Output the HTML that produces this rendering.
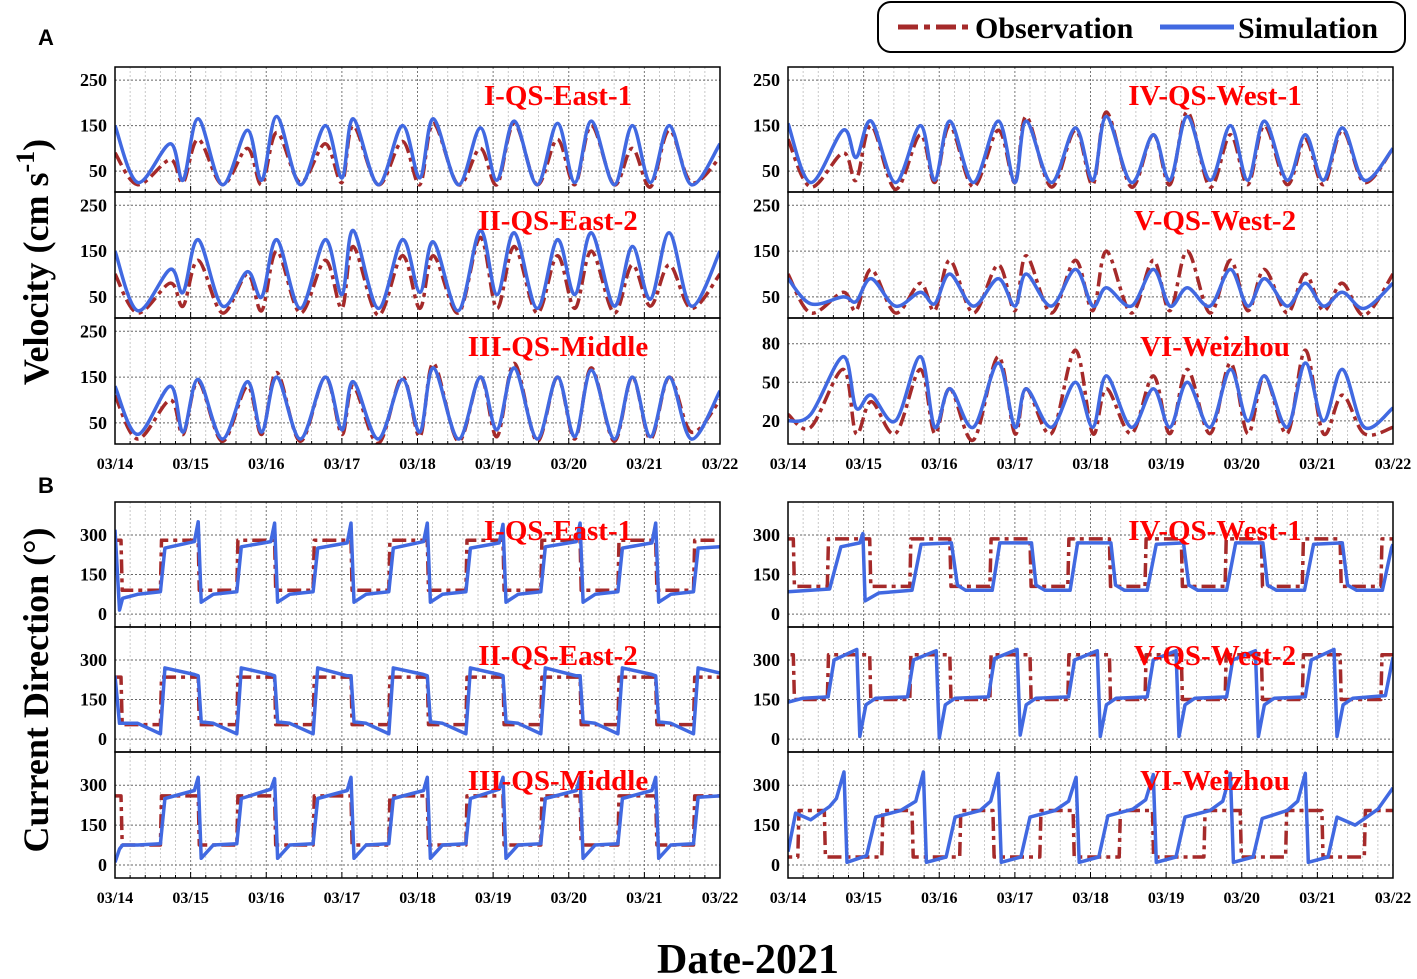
<!DOCTYPE html>
<html><head><meta charset="utf-8"><style>
html,body{margin:0;padding:0;background:#fff;}
svg{display:block;font-family:"Liberation Serif",serif;font-weight:bold;}
</style></head><body>
<svg id="chart" width="1417" height="979" viewBox="0 0 1417 979">
<text x="38" y="45" font-size="22" font-family="Liberation Sans">A</text>
<text x="38" y="493" font-size="22" font-family="Liberation Sans">B</text>
<text transform="translate(48,262) rotate(-90)" font-size="36" text-anchor="middle">Velocity (cm s<tspan dy="-14" font-size="26">-1</tspan><tspan dy="14">)</tspan></text>
<text transform="translate(48,690) rotate(-90)" font-size="36" text-anchor="middle">Current Direction (°)</text>
<text x="748" y="973" font-size="42" text-anchor="middle">Date-2021</text>
<g>
<rect x="878" y="2" width="527" height="50" rx="13" fill="#fff" stroke="#000" stroke-width="2"/>
<line x1="898" y1="27" x2="970" y2="27" stroke="#A52A2A" stroke-width="5" stroke-dasharray="20 6 6 6"/>
<text x="975" y="38" font-size="30">Observation</text>
<line x1="1160" y1="27" x2="1234" y2="27" stroke="#4169E1" stroke-width="5"/>
<text x="1238" y="38" font-size="30">Simulation</text>
</g>
</svg>
<script>
const dateLabels=["03/14","03/15","03/16","03/17","03/18","03/19","03/20","03/21","03/22"];
const velTicks=[50,150,250];
const velTicksVI=[20,50,80];
const dirTicks=[0,150,300];
const velT=[0,0.30,0.73,0.90,1.10,1.42,1.75,1.94,2.14,2.45,2.78,3.0,3.15,3.48,3.80,4.03,4.21,4.54,4.83,5.05,5.28,5.58,5.85,6.08,6.3,6.6,6.84,7.08,7.33,7.62,8.0];
const v1Sim=[150,25,110,30,165,20,140,30,170,20,150,35,165,20,150,35,165,20,145,30,160,20,155,25,160,20,150,25,150,20,110];
const v1Obs=[90,20,75,25,120,20,100,20,135,25,110,25,150,20,115,20,155,20,100,20,155,20,120,20,150,20,100,15,140,25,80];
const v2Sim=[150,20,110,60,175,30,105,50,175,25,175,55,195,25,175,60,170,20,195,55,190,25,175,55,190,30,160,45,190,30,150];
const v2Obs=[100,15,80,30,130,15,100,20,150,15,130,25,160,10,140,25,140,15,180,25,160,15,140,25,150,15,120,30,120,25,100];
const v3Sim=[130,25,130,30,145,15,140,30,150,15,150,35,140,15,145,30,170,15,150,35,170,15,150,20,165,15,150,20,150,15,120];
const v3Obs=[110,15,100,25,140,10,130,25,160,10,150,25,130,5,150,20,180,10,150,20,180,10,150,15,170,10,150,15,150,30,100];
const v4Sim=[155,25,140,80,160,25,150,30,160,25,160,25,160,25,145,30,170,25,130,30,170,30,150,30,160,30,130,30,145,30,100];
const v4Obs=[120,15,90,30,150,10,130,25,150,15,140,25,170,15,140,20,180,15,130,20,180,15,130,20,150,20,120,20,140,25,100];
const v5Sim=[90,35,50,40,90,30,60,35,100,30,90,30,100,30,110,30,70,30,110,30,70,30,110,30,90,30,80,30,60,25,80];
const v5Obs=[100,15,60,20,110,15,80,20,130,15,120,20,140,15,130,20,150,15,130,20,150,15,130,20,110,15,100,20,80,10,100];
const v6Sim=[20,25,70,30,40,20,70,15,45,15,65,15,45,15,50,15,55,15,45,15,50,15,60,20,55,15,65,20,60,15,30];
const v6Obs=[25,15,60,10,35,10,60,10,45,5,70,10,45,10,75,10,45,10,55,10,60,10,65,10,55,10,75,10,40,10,15];

const dirTL=[0,0.06,0.1,0.3,0.6,0.66,1.05,1.1,1.14,1.3,1.61,1.67,2.06,2.11,2.15,2.31,2.62,2.68,3.07,3.12,3.16,3.32,3.62,3.68,4.08,4.13,4.17,4.33,4.64,4.70,5.08,5.13,5.17,5.33,5.63,5.69,6.10,6.15,6.19,6.35,6.65,6.71,7.10,7.15,7.19,7.35,7.65,7.71,8.0];
const d1Sim=[320,15,60,75,85,250,275,350,45,75,85,255,275,345,45,75,85,250,270,345,45,75,85,250,275,345,45,75,85,250,270,340,45,75,85,255,275,345,45,75,85,250,270,345,45,75,85,250,255];
const d2Sim=[240,60,60,60,20,270,245,240,65,60,20,270,245,240,65,60,20,270,240,240,65,60,20,270,245,240,65,60,20,270,245,240,65,60,20,270,240,240,65,60,20,270,245,240,65,60,20,270,250];
const d3Sim=[10,60,75,75,80,250,280,330,25,75,80,250,285,325,25,75,80,250,280,330,25,75,80,250,280,330,25,75,80,250,285,330,25,75,80,250,280,330,25,75,80,250,280,330,25,75,80,255,260];
const obsUpL=[-0.5,0.6,1.61,2.62,3.62,4.64,5.63,6.65,7.65];
const obsDownL=[0.08,1.1,2.11,3.12,4.13,5.13,6.15,7.15,8.2];
const d1Obs=[280,90];
const d2Obs=[235,55];
const d3Obs=[260,75];

const d4T=[0,0.3,0.55,0.7,0.95,0.99,1.02,1.2,1.64,1.76,2.16,2.24,2.35,2.70,2.80,3.22,3.28,3.4,3.73,3.83,4.27,4.33,4.45,4.75,4.87,5.23,5.3,5.42,5.8,5.92,6.28,6.34,6.46,6.83,6.95,7.33,7.4,7.52,7.86,7.98,8.0];
const d4Sim=[85,90,95,255,270,305,50,80,90,265,270,110,90,90,270,270,110,90,90,270,270,110,90,90,265,270,110,90,90,270,270,110,90,90,265,270,110,90,90,250,265];
const d5T=[0,0.2,0.53,0.61,0.91,0.95,1.03,1.16,1.58,1.66,1.96,2.0,2.08,2.21,2.65,2.73,3.03,3.07,3.15,3.28,3.71,3.79,4.09,4.13,4.21,4.34,4.75,4.83,5.13,5.17,5.25,5.38,5.8,5.88,6.18,6.22,6.3,6.43,6.84,6.92,7.22,7.26,7.34,7.47,7.9,8.0];
const d5Sim=[140,155,160,300,340,10,130,155,160,300,335,5,130,155,160,305,340,15,130,155,160,300,335,10,130,155,160,300,335,10,130,155,160,300,335,10,130,155,160,300,340,10,130,155,165,310];
const d6T=[0,0.1,0.3,0.55,0.64,0.74,0.78,1.04,1.16,1.49,1.69,1.79,1.83,2.09,2.21,2.54,2.68,2.78,2.82,3.08,3.2,3.53,3.71,3.81,3.85,4.11,4.23,4.56,4.73,4.83,4.87,5.13,5.25,5.58,5.75,5.85,5.89,6.15,6.27,6.6,6.74,6.84,6.88,7.14,7.26,7.5,7.6,7.8,8.0];
const d6Sim=[50,195,170,220,250,350,10,35,180,205,240,350,10,30,180,205,240,345,10,30,180,205,240,330,10,30,185,210,245,340,10,30,180,205,240,345,10,30,175,205,240,345,10,30,180,150,170,210,290];
const obsUpR=[-0.5,0.52,1.61,2.67,3.7,4.72,5.78,6.8,7.84];
const obsDownR=[0.07,1.08,2.14,3.2,4.25,5.2,6.26,7.3,8.2];
const obsUpVI=[0.13,1.24,2.27,3.33,4.38,5.5,6.58,7.62];
const obsDownVI=[0.48,1.64,2.71,3.77,4.82,5.98,7.06,8.2];
const d4Obs=[285,105];
const d5Obs=[320,150];
const d6Obs=[205,30];

const NS="http://www.w3.org/2000/svg";
const svg=document.getElementById('chart');
function mk(tag,attrs,parent){const e=document.createElementNS(NS,tag);for(const k in attrs)e.setAttribute(k,attrs[k]);(parent||svg).appendChild(e);return e;}
const COLS=[[115,720],[788,1393]];
const ROWS=[[67,192],[192,318],[318,444],[502,627],[627,752],[752,878]];
let clipId=0;
function smoothPath(pts){
  let d="M"+pts[0][0].toFixed(1)+","+pts[0][1].toFixed(1);
  for(let i=0;i<pts.length-1;i++){
    const p0=pts[Math.max(0,i-1)],p1=pts[i],p2=pts[i+1],p3=pts[Math.min(pts.length-1,i+2)];
    const c1=[p1[0]+(p2[0]-p0[0])/6,p1[1]+(p2[1]-p0[1])/6];
    const c2=[p2[0]-(p3[0]-p1[0])/6,p2[1]-(p3[1]-p1[1])/6];
    d+=" C"+c1[0].toFixed(1)+","+c1[1].toFixed(1)+" "+c2[0].toFixed(1)+","+c2[1].toFixed(1)+" "+p2[0].toFixed(1)+","+p2[1].toFixed(1);
  }
  return d;
}
function linePath(pts){return pts.map((p,i)=>(i?"L":"M")+p[0].toFixed(1)+","+p[1].toFixed(1)).join(" ");}

function panel(opt){
  const [x0,x1]=COLS[opt.col],[y0,y1]=ROWS[opt.row];
  const [dmin,dmax]=opt.domain;
  const X=t=>x0+(x1-x0)*t/8;
  const Y=v=>y1-(y1-y0)*(v-dmin)/(dmax-dmin);
  const g=mk('g',{});
  
  
  clipId++;
  const cp=mk('clipPath',{id:'c'+clipId},g);
  mk('rect',{x:x0,y:y0,width:x1-x0,height:y1-y0},cp);
  for(let k=0;k<=40;k++){
    const x=X(k/5);
    const gl=mk('line',{x1:x,x2:x,y1:y0,y2:y1,stroke:k%5===0?'#777':'#bbb','stroke-width':k%5===0?1:0.8,'stroke-dasharray':'2 2'},g);
    
    
    const tk=mk('line',{x1:x,x2:x,y1:y1,y2:y1-(k%5===0?6:3),stroke:'#000','stroke-width':1},g);
    
    
  }
  opt.ticks.forEach(v=>{
    const y=Y(v);
    const hl=mk('line',{x1:x0,x2:x1,y1:y,y2:y,stroke:'#666','stroke-width':1,'stroke-dasharray':'2 2'},g);
    
    
    const tl=mk('text',{x:x0-8,y:y+6,'font-size':18,'text-anchor':'end'},g);
    tl.textContent=v;
    
    
  });
  const lg=mk('g',{'clip-path':'url(#c'+clipId+')'},g);
  let obsPts;
  if(opt.obsVals){obsPts=opt.obsT.map((t,i)=>[X(t),Y(opt.obsVals[i])]);}
  else{
    obsPts=[];const [hi,lo]=opt.obsLevels;
    obsPts.push([X(-0.5),Y(lo)]);
    for(let i=0;i<opt.up.length;i++){
      obsPts.push([X(opt.up[i]),Y(lo)]);obsPts.push([X(opt.up[i]+0.015),Y(hi)]);
      obsPts.push([X(opt.down[i]),Y(hi)]);obsPts.push([X(opt.down[i]+0.015),Y(lo)]);
    }
    obsPts.push([X(8.5),Y(lo)]);
  }
  const op=mk('path',{d:opt.obsVals?smoothPath(obsPts):linePath(obsPts),fill:'none',stroke:'#A52A2A','stroke-width':3.5,'stroke-dasharray':'14 5 4 5','stroke-linejoin':'round'},lg);
  
  
  const simPts=opt.simT.map((t,i)=>[X(t),Y(opt.simVals[i])]);
  const sp=mk('path',{d:opt.smooth?smoothPath(simPts):linePath(simPts),fill:'none',stroke:'#4169E1','stroke-width':3.5,'stroke-linejoin':'round'},lg);
  
  
  const fr=mk('rect',{x:x0,y:y0,width:x1-x0,height:y1-y0,fill:'none',stroke:'#000','stroke-width':1.5},g);
  
  
  const tt=mk('text',{x:opt.col?1215:558,y:y0+38,'font-size':29,'text-anchor':'middle',fill:'#F00'},g);
  tt.textContent=opt.title;
  
  
  if(opt.row===2||opt.row===5){
    dateLabels.forEach((s,i)=>{
      const t=mk('text',{x:X(i),y:y1+25,'font-size':16,'text-anchor':'middle'},g);
      t.textContent=s;
      
      
    });
  }
}
const VD=[4,279],DD=[-49,425];
panel({name:'velocity-panel-i',col:0,row:0,domain:VD,ticks:velTicks,title:'I-QS-East-1',obsT:velT,obsVals:v1Obs,simT:velT,simVals:v1Sim,smooth:true});
panel({name:'velocity-panel-ii',col:0,row:1,domain:VD,ticks:velTicks,title:'II-QS-East-2',obsT:velT,obsVals:v2Obs,simT:velT,simVals:v2Sim,smooth:true});
panel({name:'velocity-panel-iii',col:0,row:2,domain:VD,ticks:velTicks,title:'III-QS-Middle',obsT:velT,obsVals:v3Obs,simT:velT,simVals:v3Sim,smooth:true});
panel({name:'velocity-panel-iv',col:1,row:0,domain:VD,ticks:velTicks,title:'IV-QS-West-1',obsT:velT,obsVals:v4Obs,simT:velT,simVals:v4Sim,smooth:true});
panel({name:'velocity-panel-v',col:1,row:1,domain:VD,ticks:velTicks,title:'V-QS-West-2',obsT:velT,obsVals:v5Obs,simT:velT,simVals:v5Sim,smooth:true});
panel({name:'velocity-panel-vi',col:1,row:2,domain:[2,100],ticks:velTicksVI,title:'VI-Weizhou',obsT:velT,obsVals:v6Obs,simT:velT,simVals:v6Sim,smooth:true});
panel({name:'direction-panel-i',col:0,row:3,domain:DD,ticks:dirTicks,title:'I-QS-East-1',obsLevels:d1Obs,up:obsUpL,down:obsDownL,simT:dirTL,simVals:d1Sim});
panel({name:'direction-panel-ii',col:0,row:4,domain:DD,ticks:dirTicks,title:'II-QS-East-2',obsLevels:d2Obs,up:obsUpL,down:obsDownL,simT:dirTL,simVals:d2Sim});
panel({name:'direction-panel-iii',col:0,row:5,domain:DD,ticks:dirTicks,title:'III-QS-Middle',obsLevels:d3Obs,up:obsUpL,down:obsDownL,simT:dirTL,simVals:d3Sim});
panel({name:'direction-panel-iv',col:1,row:3,domain:DD,ticks:dirTicks,title:'IV-QS-West-1',obsLevels:d4Obs,up:obsUpR,down:obsDownR,simT:d4T,simVals:d4Sim});
panel({name:'direction-panel-v',col:1,row:4,domain:DD,ticks:dirTicks,title:'V-QS-West-2',obsLevels:d5Obs,up:obsUpR,down:obsDownR,simT:d5T,simVals:d5Sim});
panel({name:'direction-panel-vi',col:1,row:5,domain:DD,ticks:dirTicks,title:'VI-Weizhou',obsLevels:d6Obs,up:obsUpVI,down:obsDownVI,simT:d6T,simVals:d6Sim});
</script>
</body></html>
